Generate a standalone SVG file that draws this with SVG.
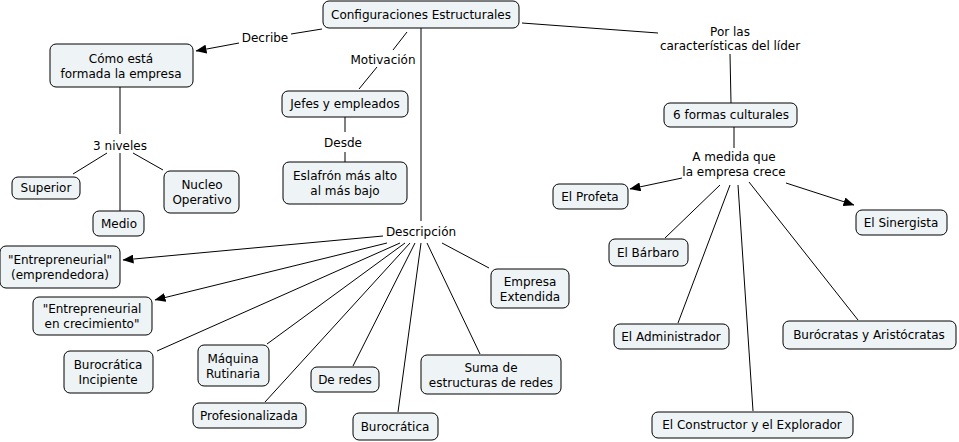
<svg xmlns="http://www.w3.org/2000/svg" width="959" height="442" viewBox="0 0 959 442">
<style>
.n rect{fill:#eef3f5;stroke:#000;stroke-width:1}
text{font-family:"DejaVu Sans",Verdana,sans-serif;font-size:12px;fill:#000;text-anchor:middle}
.c line{stroke:#000;stroke-width:1}
</style>
<defs>
<marker id="a" markerUnits="userSpaceOnUse" markerWidth="11" markerHeight="9" refX="10.5" refY="4.5" orient="auto">
<path d="M0,0 L11,4.5 L0,9 z" fill="#000"/>
</marker>
</defs>
<rect width="959" height="442" fill="#fff"/>
<g class="c">
<line x1="322" y1="29" x2="291" y2="34"/>
<line x1="239" y1="43" x2="196" y2="51" marker-end="url(#a)"/>
<line x1="407" y1="32" x2="393" y2="50"/>
<line x1="377" y1="67" x2="359" y2="89"/>
<line x1="421" y1="28" x2="421" y2="221"/>
<line x1="522" y1="23" x2="658" y2="33"/>
<line x1="730" y1="54" x2="731" y2="103"/>
<line x1="345" y1="117" x2="345" y2="132"/>
<line x1="345" y1="152" x2="345" y2="162"/>
<line x1="120" y1="87" x2="120" y2="134"/>
<line x1="107" y1="153" x2="73" y2="174"/>
<line x1="120" y1="153" x2="120" y2="211"/>
<line x1="133" y1="153" x2="163" y2="170"/>
<line x1="734" y1="127" x2="734" y2="148"/>
<line x1="682" y1="178" x2="630" y2="189" marker-end="url(#a)"/>
<line x1="786" y1="183" x2="854" y2="205" marker-end="url(#a)"/>
<line x1="720" y1="185" x2="665" y2="238"/>
<line x1="730" y1="185" x2="678" y2="323"/>
<line x1="738" y1="185" x2="753" y2="411"/>
<line x1="749" y1="182" x2="858" y2="320"/>
<line x1="383" y1="236" x2="123" y2="260" marker-end="url(#a)"/>
<line x1="387" y1="243" x2="155" y2="300" marker-end="url(#a)"/>
<line x1="400" y1="243" x2="157" y2="351"/>
<line x1="405" y1="243" x2="267" y2="344"/>
<line x1="410" y1="243" x2="265" y2="402"/>
<line x1="415" y1="243" x2="353" y2="366"/>
<line x1="421" y1="243" x2="398" y2="412"/>
<line x1="427" y1="243" x2="480" y2="354"/>
<line x1="442" y1="243" x2="489" y2="268"/>
</g>
<g id="labels">
<text x="265" y="42">Decribe</text>
<text x="383" y="64">Motivación</text>
<text x="343" y="147">Desde</text>
<text x="120" y="150">3 niveles</text>
<text x="421" y="236">Descripción</text>
<text x="730" y="36">Por las</text>
<text x="730" y="50">características del líder</text>
<text x="734" y="161">A medida que</text>
<text x="734" y="176">la empresa crece</text>
</g>
<g id="config" class="n"><rect x="323" y="1" width="196" height="27" rx="6"/><text x="421" y="19">Configuraciones Estructurales</text></g>
<g id="como" class="n"><rect x="50" y="44" width="143" height="43" rx="6"/><text x="121" y="63">Cómo está</text><text x="121" y="78">formada la empresa</text></g>
<g id="jefes" class="n"><rect x="282" y="91" width="126" height="26" rx="6"/><text x="345" y="108">Jefes y empleados</text></g>
<g id="eslafron" class="n"><rect x="283" y="162" width="124" height="42" rx="6"/><text x="345" y="180">Eslafrón más alto</text><text x="345" y="195">al más bajo</text></g>
<g id="superior" class="n"><rect x="12" y="177" width="68" height="22" rx="6"/><text x="46" y="192">Superior</text></g>
<g id="medio" class="n"><rect x="93" y="211" width="51" height="25" rx="6"/><text x="119" y="228">Medio</text></g>
<g id="nucleo" class="n"><rect x="164" y="171" width="75" height="42" rx="6"/><text x="202" y="189">Nucleo</text><text x="202" y="204">Operativo</text></g>
<g id="seis" class="n"><rect x="664" y="103" width="133" height="24" rx="6"/><text x="731" y="119">6 formas culturales</text></g>
<g id="profeta" class="n"><rect x="553" y="184" width="75" height="25" rx="6"/><text x="590" y="201">El Profeta</text></g>
<g id="sinergista" class="n"><rect x="856" y="210" width="91" height="25" rx="6"/><text x="901" y="227">El Sinergista</text></g>
<g id="barbaro" class="n"><rect x="609" y="239" width="79" height="27" rx="6"/><text x="648" y="257">El Bárbaro</text></g>
<g id="admin" class="n"><rect x="614" y="324" width="115" height="25" rx="6"/><text x="671" y="341">El Administrador</text></g>
<g id="constructor" class="n"><rect x="652" y="412" width="201" height="26" rx="6"/><text x="752" y="429">El Constructor y el Explorador</text></g>
<g id="burocratas" class="n"><rect x="783" y="321" width="173" height="28" rx="6"/><text x="869" y="339">Burócratas y Aristócratas</text></g>
<g id="entre1" class="n"><rect x="0" y="246" width="120" height="42" rx="6"/><text x="60" y="264">"Entrepreneurial"</text><text x="60" y="279">(emprendedora)</text></g>
<g id="entre2" class="n"><rect x="33" y="297" width="119" height="38" rx="6"/><text x="92" y="313">"Entrepreneurial</text><text x="92" y="328">en crecimiento"</text></g>
<g id="incipiente" class="n"><rect x="64" y="351" width="89" height="42" rx="6"/><text x="108" y="369">Burocrática</text><text x="108" y="384">Incipiente</text></g>
<g id="maquina" class="n"><rect x="198" y="345" width="71" height="41" rx="6"/><text x="233" y="363">Máquina</text><text x="233" y="378">Rutinaria</text></g>
<g id="profesional" class="n"><rect x="193" y="403" width="113" height="25" rx="6"/><text x="249" y="420">Profesionalizada</text></g>
<g id="redes" class="n"><rect x="311" y="367" width="68" height="25" rx="6"/><text x="345" y="384">De redes</text></g>
<g id="burocratica" class="n"><rect x="353" y="413" width="85" height="27" rx="6"/><text x="395" y="431">Burocrática</text></g>
<g id="suma" class="n"><rect x="421" y="355" width="140" height="39" rx="6"/><text x="491" y="372">Suma de</text><text x="491" y="387">estructuras de redes</text></g>
<g id="extendida" class="n"><rect x="491" y="269" width="78" height="39" rx="6"/><text x="530" y="286">Empresa</text><text x="530" y="301">Extendida</text></g>
</svg>
